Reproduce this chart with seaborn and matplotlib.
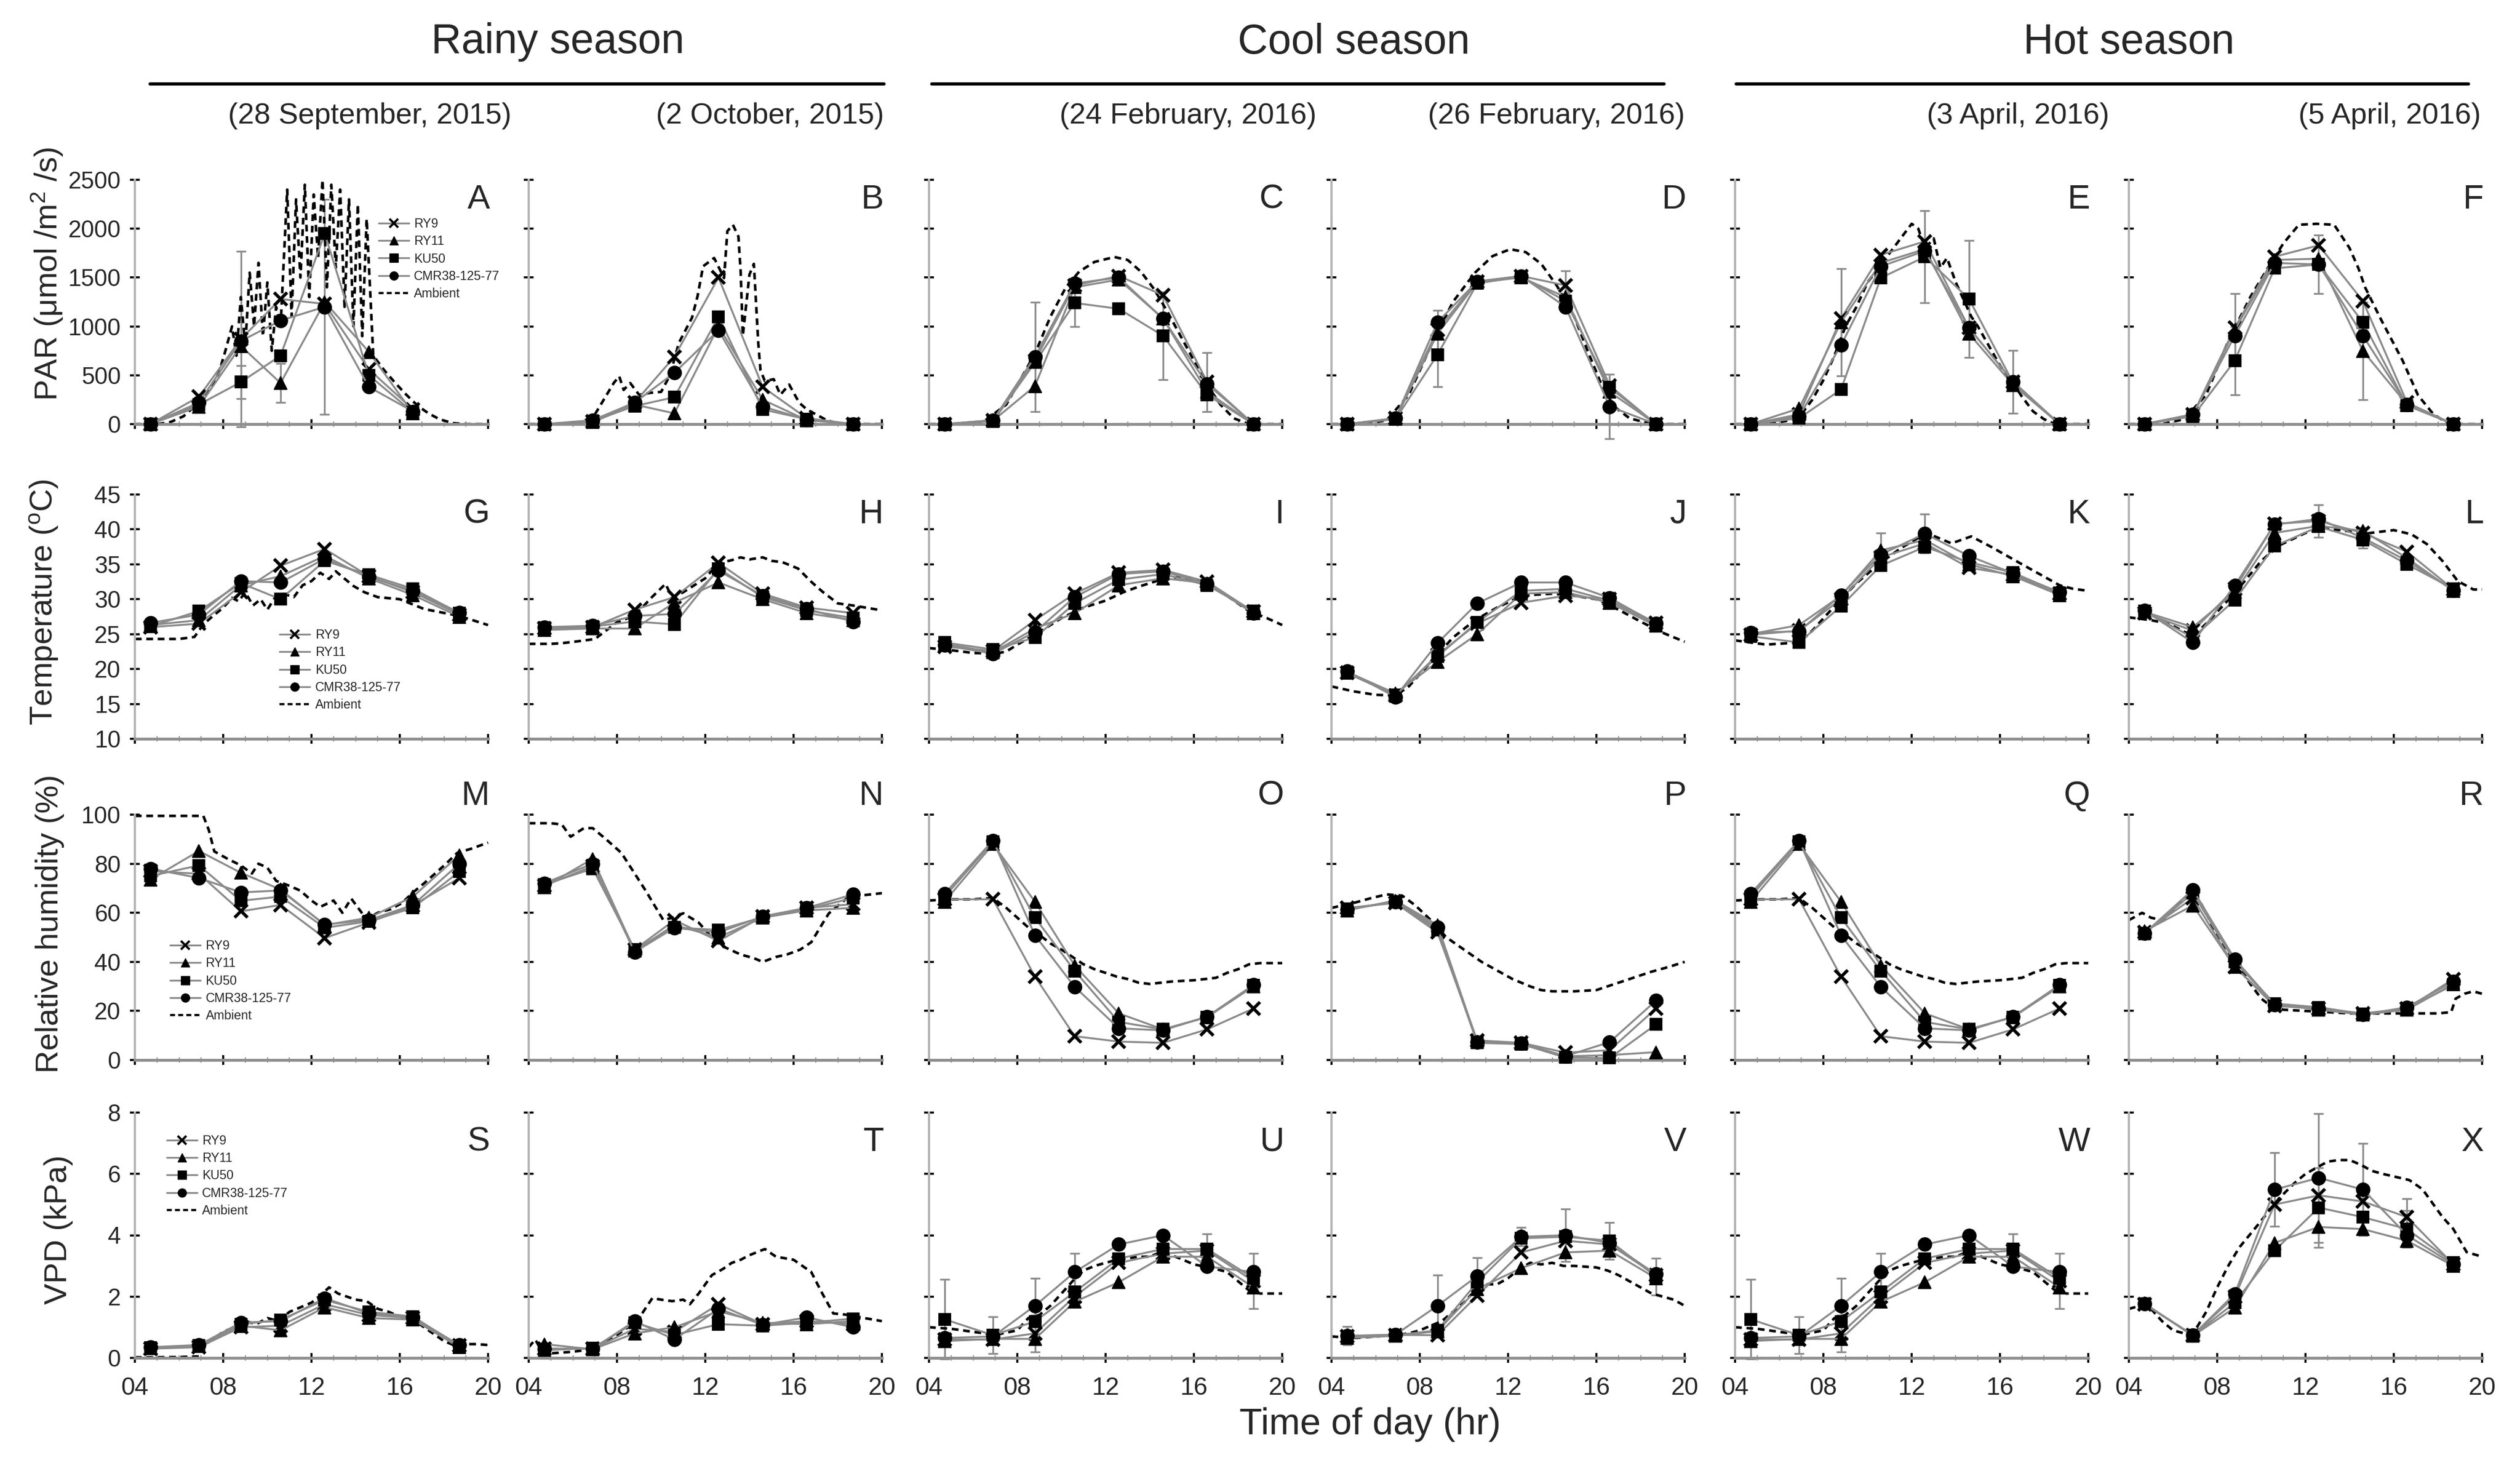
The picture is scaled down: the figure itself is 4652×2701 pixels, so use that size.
import matplotlib
matplotlib.use("Agg")
import matplotlib.pyplot as plt
from matplotlib.lines import Line2D
import seaborn as sns

# ---------------- data ----------------
hours = [4.7, 6.9, 8.8, 10.6, 12.6, 14.6, 16.6, 18.7]
genotypes = ["RY9", "RY11", "KU50", "CMR38-125-77"]

season_titles = ["Rainy season", "Cool season", "Hot season"]
dates = ["(28 September, 2015)", "(2 October, 2015)", "(24 February, 2016)",
         "(26 February, 2016)", "(3 April, 2016)", "(5 April, 2016)"]
row_labels = [r"PAR ($\mathrm{\mu}$mol /m$^{2}$ /s)", r"Temperature ($^{\mathrm{o}}$C)",
              "Relative humidity (%)", "VPD (kPa)"]
row_ylims = [(0, 2500), (10, 45), (0, 100), (0, 8)]
row_yticks = [[0, 500, 1000, 1500, 2000, 2500], [10, 15, 20, 25, 30, 35, 40, 45],
              [0, 20, 40, 60, 80, 100], [0, 2, 4, 6, 8]]
x_ticks = [4, 8, 12, 16, 20]
x_ticklabels = ["04", "08", "12", "16", "20"]
letters = list("ABCDEFGHIJKLMNOPQRSTUVWX")

# ---- PAR ----
A_RY9 = [0, 280, 870, 1280, 1230, 560, 150]
A_RY11 = [0, 180, 800, 420, 1250, 740, 110]
A_KU50 = [0, 200, 430, 700, 1950, 500, 120]
A_CMR = [0, 220, 850, 1060, 1200, 380, 130]
A_amb_t = [4.0, 5.0, 5.6, 6.2, 6.8, 7.3, 7.8, 8.1, 8.4, 8.6, 8.8, 9.0, 9.2, 9.4, 9.6, 9.8, 10.0,
           10.2, 10.4, 10.6, 10.9, 11.1, 11.3, 11.5, 11.7, 11.9, 12.1, 12.3, 12.5, 12.7, 12.9,
           13.1, 13.3, 13.5, 13.7, 13.9, 14.1, 14.3, 14.5, 14.8, 15.3, 15.8, 16.3, 16.8, 17.3,
           17.8, 18.4, 19.0, 20.0]
A_amb = [0, 0, 20, 80, 200, 330, 520, 750, 1000, 700, 1300, 800, 1550, 1000, 1650, 900, 1450,
         750, 1200, 1000, 2400, 1100, 2300, 1500, 2450, 1300, 2350, 1700, 2500, 1400, 2450,
         1600, 2400, 1200, 2300, 1000, 2250, 900, 2100, 700, 550, 420, 300, 190, 110,
         50, 10, 0, 0]
A_err = {0: [0, 0, 900, 0, 0, 0, 0], 1: [0, 0, 0, 200, 0, 0, 0],
         2: [0, 0, 170, 0, 0, 0, 0], 3: [0, 0, 0, 0, 1100, 0, 0]}

B_RY9 = [0, 30, 220, 690, 1500, 380, 60, 0]
B_RY11 = [0, 20, 200, 110, 1000, 250, 40, 0]
B_KU50 = [0, 30, 185, 275, 1100, 150, 50, 0]
B_CMR = [0, 40, 220, 525, 960, 180, 45, 0]
B_amb_t = [4.0, 5.0, 6.0, 6.5, 7.0, 7.4, 7.85, 8.1, 8.3, 8.6, 9.0, 9.5, 10.0, 10.4, 10.8, 11.4,
           11.65, 11.9, 12.4, 12.85, 13.0, 13.25, 13.5, 13.6, 13.7, 14.0, 14.2, 14.4, 14.5,
           14.7, 15.1, 15.4, 15.8, 16.25, 16.6, 17.5, 18.1, 20.0]
B_amb = [0, 0, 0, 30, 100, 250, 420, 490, 350, 420, 300, 320, 330, 500, 830, 1090, 1310, 1615,
         1700, 1495, 1975, 2040, 1920, 1570, 905, 1530, 1640, 830, 550, 440, 460, 300, 405,
         220, 150, 40, 0, 0]
B_err = {}

C_RY9 = [0, 40, 650, 1420, 1515, 1320, 430, 0]
C_RY11 = [0, 35, 390, 1400, 1480, 1080, 330, 0]
C_KU50 = [0, 30, 630, 1240, 1180, 905, 300, 0]
C_CMR = [0, 40, 690, 1440, 1500, 1080, 410, 0]
C_amb_t = [4.0, 5.5, 6.5, 7.5, 8.0, 8.8, 9.5, 10.2, 10.8, 11.5, 12.4, 13.0, 13.6, 14.2, 14.8,
           15.4, 16.0, 16.6, 17.2, 17.8, 18.5, 20.0]
C_amb = [0, 0, 30, 200, 400, 720, 1100, 1400, 1560, 1660, 1710, 1680, 1560, 1380, 1150, 900,
         650, 400, 200, 60, 0, 0]
C_err = {0: [0, 0, 0, 0, 0, 0, 300, 0], 2: [0, 0, 0, 240, 0, 450, 0, 0],
         3: [0, 0, 560, 0, 0, 0, 0, 0]}

D_RY9 = [0, 60, 965, 1460, 1515, 1420, 395, 0]
D_RY11 = [0, 55, 925, 1450, 1500, 1300, 330, 0]
D_KU50 = [0, 50, 710, 1440, 1510, 1260, 375, 0]
D_CMR = [0, 60, 1043, 1460, 1515, 1200, 180, 0]
D_amb_t = [4.0, 5.5, 6.5, 7.5, 8.5, 9.5, 10.5, 11.3, 12.1, 12.8, 13.5, 14.2, 15.0, 15.6, 16.2,
           16.8, 17.5, 18.5, 20.0]
D_amb = [0, 0, 40, 300, 800, 1250, 1550, 1720, 1790, 1760, 1640, 1420, 1100, 750, 420, 180,
         60, 0, 0]
D_err = {0: [0, 0, 200, 0, 0, 150, 0, 0], 2: [0, 0, 330, 0, 0, 0, 0, 0],
         3: [0, 0, 0, 0, 0, 0, 330, 0]}

E_RY9 = [0, 100, 1080, 1732, 1870, 984, 433, 0]
E_RY11 = [0, 160, 1043, 1650, 1791, 925, 400, 0]
E_KU50 = [0, 60, 354, 1496, 1712, 1280, 420, 0]
E_CMR = [0, 80, 807, 1614, 1772, 984, 433, 0]
E_amb_t = [4.0, 5.5, 6.5, 7.0, 7.5, 8.0, 8.5, 9.0, 9.5, 10.0, 10.5, 11.0, 11.5, 12.0, 12.3,
           12.6, 13.0, 13.3, 13.6, 14.0, 14.3, 14.7, 15.0, 15.5, 16.0, 16.5, 17.0, 17.5, 18.0,
           18.5, 20.0]
E_amb = [0, 0, 40, 100, 250, 450, 700, 1000, 1200, 1450, 1600, 1750, 1900, 2050, 2000, 1800,
         1900, 1600, 1700, 1450, 1300, 1100, 1000, 800, 600, 450, 280, 130, 50, 0, 0]
E_err = {1: [0, 0, 550, 0, 0, 0, 0, 0], 2: [0, 0, 0, 0, 470, 600, 0, 0],
         3: [0, 0, 0, 0, 0, 0, 320, 0]}

F_RY9 = [0, 100, 985, 1713, 1830, 1260, 220, 0]
F_RY11 = [0, 90, 965, 1680, 1693, 750, 200, 0]
F_KU50 = [0, 80, 650, 1594, 1634, 1043, 190, 0]
F_CMR = [0, 100, 905, 1650, 1634, 905, 200, 0]
F_amb_t = [4.0, 5.5, 6.5, 7.5, 8.5, 9.5, 10.3, 11.0, 11.7, 12.5, 13.3, 14.0, 14.4, 14.7, 15.4,
           16.4, 17.1, 17.8, 18.5, 20.0]
F_amb = [0, 0, 50, 300, 850, 1300, 1600, 1850, 2040, 2050, 2040, 1800, 1594, 1400, 1080, 650,
         295, 100, 0, 0]
F_err = {0: [0, 0, 350, 0, 0, 0, 0, 0], 1: [0, 0, 0, 0, 0, 500, 0, 0],
         2: [0, 0, 350, 0, 300, 0, 0, 0]}

# ---- Temperature ----
G_RY9 = [26.0, 26.5, 31.0, 34.8, 37.2, 33.3, 31.0, 27.8]
G_RY11 = [26.3, 27.0, 32.0, 33.3, 36.2, 33.0, 30.6, 27.5]
G_KU50 = [26.1, 28.3, 32.3, 30.0, 35.5, 33.5, 31.5, 28.0]
G_CMR = [26.6, 27.8, 32.6, 32.4, 35.8, 33.2, 31.2, 28.1]
G_amb_t = [4.0, 5.0, 6.0, 6.7, 7.1, 7.5, 8.0, 8.4, 8.7, 9.0, 9.35, 9.7, 10.0, 10.4, 10.7, 11.2,
           11.6, 12.0, 12.4, 12.8, 13.1, 13.4, 13.9, 14.4, 15.0, 16.0, 17.1, 18.7, 20.0]
G_amb = [24.3, 24.3, 24.3, 24.6, 26.4, 27.5, 28.8, 30.2, 29.7, 31.0, 29.1, 30.0, 28.5, 30.5,
         30.8, 30.3, 32.0, 32.6, 33.8, 32.9, 34.0, 33.2, 31.9, 31.0, 30.3, 30.0, 28.6, 27.6, 26.3]
G_err = {}

H_RY9 = [25.8, 26.0, 28.5, 30.3, 35.2, 30.8, 28.8, 28.0]
H_RY11 = [25.6, 25.8, 25.8, 29.5, 32.4, 30.0, 28.0, 27.0]
H_KU50 = [25.9, 26.1, 26.8, 26.4, 34.4, 30.3, 28.4, 27.3]
H_CMR = [26.0, 26.2, 27.6, 27.9, 34.1, 30.5, 28.6, 26.8]
H_amb_t = [4.0, 5.0, 5.5, 6.3, 7.0, 7.5, 8.0, 8.75, 9.2, 9.55, 10.2, 10.5, 11.0, 11.5, 12.0,
           12.4, 12.8, 13.2, 13.6, 14.0, 14.6, 15.0, 15.5, 16.2, 16.8, 17.3, 18.0, 18.7, 20.0]
H_amb = [23.6, 23.6, 23.7, 24.0, 24.3, 25.5, 26.7, 27.6, 29.0, 30.2, 32.2, 30.2, 31.0, 32.0,
         33.0, 34.5, 35.3, 35.6, 36.0, 35.7, 36.0, 35.5, 35.3, 34.4, 32.5, 31.1, 29.4, 29.1, 28.4]
H_err = {}

I_RY9 = [23.2, 22.6, 27.0, 30.8, 33.8, 34.2, 32.5, 28.2]
I_RY11 = [23.6, 22.4, 25.8, 28.0, 32.0, 33.0, 32.3, 28.0]
I_KU50 = [23.8, 22.8, 24.5, 29.4, 32.8, 33.6, 32.0, 28.3]
I_CMR = [23.4, 22.2, 25.3, 30.3, 33.6, 34.0, 32.2, 28.0]
I_amb_t = [4.0, 5.0, 6.0, 7.0, 7.5, 8.0, 9.0, 10.0, 11.0, 12.0, 12.8, 13.5, 14.2, 14.7, 15.5,
           16.5, 17.5, 18.5, 19.3, 20.0]
I_amb = [23.0, 22.7, 22.3, 22.2, 22.5, 23.5, 25.3, 27.3, 28.8, 29.8, 31.0, 31.8, 32.5, 33.0,
         33.2, 32.3, 30.5, 28.3, 27.3, 26.3]
I_err = {}

J_RY9 = [19.5, 16.2, 22.0, 26.5, 29.5, 30.5, 30.0, 26.6]
J_RY11 = [19.6, 16.5, 21.0, 25.0, 30.8, 31.0, 29.5, 26.2]
J_KU50 = [19.4, 16.3, 21.8, 26.7, 31.2, 31.5, 29.8, 26.4]
J_CMR = [19.7, 16.0, 23.7, 29.4, 32.4, 32.4, 30.2, 26.5]
J_amb_t = [4.0, 5.0, 6.0, 6.9, 7.5, 8.5, 9.5, 10.5, 11.5, 12.3, 13.0, 14.0, 15.0, 16.0, 17.0,
           18.0, 19.0, 20.0]
J_amb = [17.5, 16.8, 16.3, 16.2, 17.5, 21.0, 24.5, 27.0, 28.8, 30.0, 30.6, 30.8, 30.5, 30.0,
         28.5, 26.8, 25.2, 23.9]
J_err = {}

K_RY9 = [24.9, 25.5, 30.0, 36.0, 38.0, 34.5, 33.5, 30.8]
K_RY11 = [25.0, 26.3, 30.5, 37.0, 38.5, 35.0, 33.3, 30.6]
K_KU50 = [24.7, 23.8, 29.0, 34.8, 37.5, 35.3, 33.8, 30.9]
K_CMR = [25.2, 25.4, 30.6, 36.4, 39.4, 36.2, 33.7, 31.0]
K_amb_t = [4.0, 5.4, 6.9, 7.5, 8.5, 9.5, 10.5, 11.5, 12.3, 12.9, 13.8, 14.7, 15.6, 17.0, 18.7,
           19.3, 20.0]
K_amb = [24.1, 23.5, 23.8, 25.5, 29.0, 32.3, 35.0, 37.3, 38.8, 39.2, 38.0, 39.0, 37.5, 35.0,
         32.0, 31.5, 31.2]
K_err = {1: [0, 0, 0, 2.5, 0, 0, 0, 0], 3: [0, 0, 0, 0, 2.8, 0, 0, 0]}

L_RY9 = [28.0, 25.5, 31.5, 40.8, 41.2, 39.5, 36.8, 31.4]
L_RY11 = [28.2, 26.0, 31.0, 39.5, 40.5, 39.8, 35.9, 31.2]
L_KU50 = [28.3, 24.5, 29.9, 37.6, 40.4, 38.5, 35.0, 31.5]
L_CMR = [28.4, 23.8, 32.0, 40.7, 41.5, 38.8, 35.5, 31.3]
L_amb_t = [4.0, 5.0, 5.8, 6.9, 7.5, 8.8, 10.0, 10.8, 12.0, 12.8, 13.8, 14.7, 16.0, 16.8, 17.5,
           18.2, 18.9, 19.6, 20.0]
L_amb = [27.4, 27.0, 26.5, 24.7, 26.5, 30.9, 35.5, 37.7, 39.5, 40.2, 39.8, 39.4, 39.9, 39.3,
         37.9, 35.5, 32.6, 31.4, 31.4]
L_err = {0: [0, 0, 0, 0, 2.3, 0, 0, 0], 3: [0, 0, 0, 0, 0, 1.5, 0, 0]}

# ---- Relative humidity ----
M_RY9 = [77.0, 75.9, 60.6, 63.2, 49.7, 56.0, 63.0, 74.2]
M_RY11 = [73.5, 85.2, 76.3, 69.5, 55.0, 58.0, 66.6, 83.5]
M_KU50 = [75.0, 79.3, 64.9, 66.6, 53.9, 56.5, 62.0, 76.8]
M_CMR = [78.0, 74.2, 68.3, 69.1, 55.2, 57.0, 63.2, 80.0]
M_amb_t = [4.0, 5.0, 6.0, 7.1, 7.35, 7.6, 8.2, 8.8, 9.3, 9.6, 10.0, 10.4, 11.0, 11.5, 12.0,
           12.4, 13.0, 13.4, 13.8, 14.5, 15.0, 15.6, 16.1, 16.6, 17.1, 17.6, 18.1, 18.6, 19.2, 20.0]
M_amb = [99.5, 99.5, 99.5, 99.5, 93.7, 85.0, 82.0, 79.3, 76.0, 80.0, 78.4, 73.0, 71.0, 69.0,
         65.0, 62.4, 65.0, 60.0, 65.8, 57.3, 60.0, 61.5, 64.0, 68.3, 72.0, 76.0, 80.0, 84.4,
         86.0, 88.6]
M_err = {}

N_RY9 = [71.0, 79.0, 45.0, 57.0, 48.5, 58.5, 62.0, 63.5]
N_RY11 = [70.5, 82.0, 44.5, 55.0, 50.0, 58.0, 61.0, 62.0]
N_KU50 = [71.5, 78.0, 45.0, 54.0, 53.0, 58.2, 61.5, 66.0]
N_CMR = [72.0, 80.0, 44.0, 53.9, 52.0, 58.5, 62.0, 67.5]
N_amb_t = [4.0, 5.0, 5.5, 5.9, 6.5, 6.9, 7.5, 8.2, 8.8, 9.3, 10.1, 10.5, 11.0, 11.7, 12.3, 12.8,
           13.6, 14.2, 14.6, 15.2, 15.7, 16.3, 16.8, 17.2, 17.6, 18.4, 19.0, 20.0]
N_amb = [96.5, 96.5, 96.0, 91.0, 94.5, 94.5, 90.0, 84.4, 76.0, 69.0, 57.0, 58.0, 59.8, 56.0,
         50.0, 46.3, 43.0, 41.5, 40.0, 42.0, 43.0, 45.0, 48.0, 54.0, 59.8, 65.8, 67.0, 68.0]
N_err = {}

O_RY9 = [65.5, 65.5, 34.0, 9.7, 7.5, 7.0, 12.5, 21.0]
O_RY11 = [64.5, 88.0, 64.5, 38.5, 19.0, 12.5, 17.5, 30.0]
O_KU50 = [66.5, 89.0, 58.0, 36.3, 15.5, 12.5, 17.5, 30.5]
O_CMR = [67.7, 89.5, 50.8, 29.8, 12.9, 12.1, 17.7, 30.6]
O_amb_t = [4.0, 5.0, 6.0, 6.9, 7.5, 8.0, 8.5, 9.0, 9.5, 10.0, 10.5, 11.0, 11.5, 12.0, 12.5,
           13.0, 13.5, 14.0, 14.5, 15.0, 16.0, 17.0, 17.5, 18.0, 18.5, 19.0, 20.0]
O_amb = [65.0, 65.5, 65.5, 66.0, 62.0, 58.0, 54.0, 51.0, 47.5, 45.0, 42.0, 39.0, 37.0, 35.5,
         34.0, 33.0, 31.5, 31.0, 31.5, 32.0, 32.5, 33.5, 35.5, 37.0, 39.0, 39.5, 39.5]
O_err = {}

P_RY9 = [62.0, 64.0, 52.0, 8.0, 7.0, 3.0, 4.0, 21.0]
P_RY11 = [61.0, 65.0, 55.0, 7.5, 6.8, 1.5, 2.0, 3.2]
P_KU50 = [61.5, 64.5, 53.0, 7.0, 6.5, 1.0, 0.8, 14.5]
P_CMR = [61.3, 64.5, 54.0, 7.3, 6.8, 1.6, 7.3, 24.2]
P_amb_t = [4.0, 5.0, 5.8, 6.5, 7.2, 7.8, 8.5, 9.2, 10.0, 10.8, 11.5, 12.2, 13.0, 13.5, 14.0,
           15.0, 16.0, 16.5, 17.5, 18.5, 19.3, 20.0]
P_amb = [62.0, 64.0, 66.0, 67.5, 67.0, 63.0, 57.0, 50.0, 45.0, 40.0, 36.5, 33.0, 30.0, 28.5,
         28.0, 28.0, 28.5, 30.0, 33.0, 36.0, 38.0, 40.0]
P_err = {}

Q_RY9 = [65.5, 65.5, 34.0, 9.7, 7.5, 7.0, 12.5, 21.0]
Q_RY11 = [64.5, 88.0, 64.5, 38.5, 19.0, 12.5, 17.5, 30.0]
Q_KU50 = [66.5, 89.0, 58.0, 36.3, 15.5, 12.5, 17.5, 30.5]
Q_CMR = [67.7, 89.5, 50.8, 29.8, 12.9, 12.1, 17.7, 30.6]
Q_amb_t = [4.0, 5.0, 6.0, 6.9, 7.5, 8.0, 8.5, 9.0, 9.5, 10.0, 10.5, 11.0, 11.5, 12.0, 12.5,
           13.0, 13.5, 14.0, 14.5, 15.0, 16.0, 17.0, 17.5, 18.0, 18.5, 19.0, 20.0]
Q_amb = [65.0, 65.5, 65.5, 66.0, 62.0, 58.0, 54.0, 51.0, 47.5, 45.0, 42.0, 39.0, 37.0, 35.5,
         34.0, 33.0, 31.5, 31.0, 31.5, 32.0, 32.5, 33.5, 35.5, 37.0, 39.0, 39.5, 39.5]
Q_err = {}

R_RY9 = [52.0, 66.0, 38.0, 22.0, 21.0, 19.0, 21.0, 33.0]
R_RY11 = [52.5, 63.0, 37.9, 22.6, 20.5, 18.5, 20.5, 31.0]
R_KU50 = [51.5, 68.0, 40.0, 23.0, 21.5, 18.8, 21.0, 30.6]
R_CMR = [51.6, 69.4, 41.1, 22.6, 21.0, 18.5, 21.5, 32.0]
R_amb_t = [4.0, 4.6, 5.0, 5.5, 6.0, 6.5, 7.0, 7.5, 8.0, 8.5, 9.0, 9.5, 10.0, 10.5, 11.0, 12.0,
           13.0, 14.0, 15.0, 16.0, 17.0, 18.0, 18.6, 18.8, 19.2, 19.6, 20.0]
R_amb = [57.0, 60.0, 58.0, 57.0, 61.0, 66.0, 68.0, 60.0, 50.0, 43.0, 38.0, 31.0, 25.0, 21.5,
         20.5, 20.0, 19.5, 19.0, 19.0, 19.0, 19.0, 19.0, 19.5, 25.0, 27.0, 28.0, 27.0]
R_err = {}

# ---- VPD ----
S_RY9 = [0.30, 0.35, 1.00, 1.05, 1.75, 1.40, 1.30, 0.40]
S_RY11 = [0.32, 0.38, 1.05, 0.90, 1.65, 1.30, 1.25, 0.35]
S_KU50 = [0.34, 0.40, 1.10, 1.24, 1.89, 1.50, 1.35, 0.38]
S_CMR = [0.35, 0.42, 1.15, 1.20, 1.95, 1.45, 1.32, 0.42]
S_amb_t = [4.0, 5.0, 6.0, 6.9, 7.1, 7.5, 8.0, 8.5, 9.0, 9.5, 10.0, 10.5, 11.0, 11.5, 12.0, 12.5,
           12.8, 13.2, 13.6, 14.0, 14.5, 15.0, 15.5, 16.0, 16.5, 17.0, 17.5, 18.0, 18.5, 19.0,
           19.5, 20.0]
S_amb = [0.02, 0.02, 0.03, 0.05, 0.4, 0.6, 0.85, 1.0, 1.2, 1.1, 1.3, 1.2, 1.5, 1.65, 1.8, 2.1,
         2.3, 2.1, 2.0, 1.9, 1.85, 1.6, 1.5, 1.35, 1.3, 1.05, 0.8, 0.55, 0.4, 0.45, 0.45, 0.42]
S_err = {}

T_RY9 = [0.30, 0.30, 0.95, 0.85, 1.75, 1.10, 1.20, 1.10]
T_RY11 = [0.45, 0.28, 0.80, 1.00, 1.52, 1.15, 1.10, 1.20]
T_KU50 = [0.25, 0.32, 1.15, 0.75, 1.10, 1.05, 1.15, 1.28]
T_CMR = [0.30, 0.30, 1.20, 0.60, 1.60, 1.08, 1.32, 1.00]
T_amb_t = [4.0, 4.3, 4.6, 5.0, 6.0, 7.0, 7.5, 8.0, 8.5, 9.0, 9.6, 10.0, 10.5, 11.0, 11.3, 11.7,
           12.3, 12.8, 13.2, 13.6, 14.0, 14.7, 15.2, 15.6, 16.0, 16.4, 16.8, 17.3, 17.8, 18.5,
           19.2, 20.0]
T_amb = [0.35, 0.6, 0.2, 0.15, 0.2, 0.3, 0.55, 0.75, 1.0, 1.3, 1.95, 1.9, 1.85, 1.9, 1.75, 2.1,
         2.7, 2.9, 3.1, 3.2, 3.35, 3.55, 3.3, 3.25, 3.2, 3.0, 2.8, 2.1, 1.45, 1.4, 1.3, 1.2]
T_err = {}

U_RY9 = [0.60, 0.60, 0.80, 2.00, 3.10, 3.40, 3.50, 2.50]
U_RY11 = [0.55, 0.62, 0.62, 1.83, 2.47, 3.30, 3.30, 2.30]
U_KU50 = [1.26, 0.74, 1.19, 2.15, 3.24, 3.55, 3.55, 2.60]
U_CMR = [0.65, 0.70, 1.70, 2.80, 3.70, 4.00, 2.98, 2.80]
U_amb_t = [4.0, 5.0, 6.0, 7.0, 8.0, 8.5, 9.0, 9.5, 10.0, 10.5, 11.0, 11.5, 12.0, 12.5, 13.0,
           13.5, 14.0, 14.5, 15.0, 15.5, 16.0, 17.0, 17.5, 18.0, 18.5, 19.0, 19.5, 20.0]
U_amb = [1.0, 0.95, 0.85, 0.75, 0.9, 1.3, 1.4, 1.7, 2.1, 2.5, 2.85, 3.0, 3.1, 3.2, 3.25, 3.3,
         3.3, 3.45, 3.35, 3.2, 3.05, 2.9, 2.8, 2.5, 2.2, 2.1, 2.1, 2.1]
U_err = {0: [0, 0, 0.6, 0, 0, 0, 0, 0.9], 2: [1.3, 0.6, 0, 0, 0, 0, 0.5, 0],
         3: [0, 0, 0.9, 0.6, 0, 0, 0, 0]}

V_RY9 = [0.70, 0.75, 0.74, 2.03, 3.44, 3.82, 3.70, 2.70]
V_RY11 = [0.65, 0.72, 0.87, 2.25, 2.93, 3.44, 3.50, 2.60]
V_KU50 = [0.68, 0.74, 0.90, 2.47, 3.90, 3.95, 3.82, 2.65]
V_CMR = [0.72, 0.76, 1.70, 2.67, 3.95, 4.00, 3.75, 2.73]
V_amb_t = [4.0, 5.0, 6.0, 7.0, 7.5, 8.0, 9.0, 9.5, 10.0, 10.5, 11.0, 11.5, 12.0, 12.5, 13.0,
           13.5, 14.0, 14.5, 15.0, 16.0, 16.5, 17.0, 17.5, 18.0, 18.5, 19.0, 19.5, 20.0]
V_amb = [0.7, 0.65, 0.7, 0.75, 0.8, 0.9, 1.2, 1.5, 1.8, 2.2, 2.4, 2.4, 2.6, 2.9, 3.1, 3.05, 3.1,
         3.0, 3.0, 2.95, 2.85, 2.7, 2.5, 2.3, 2.1, 2.0, 1.9, 1.7]
V_err = {2: [0, 0, 0, 0, 0, 0, 0.6, 0.6], 3: [0.3, 0, 1.0, 0.6, 0.3, 0.85, 0, 0]}

W_RY9 = [0.60, 0.60, 0.80, 2.00, 3.10, 3.40, 3.50, 2.50]
W_RY11 = [0.55, 0.62, 0.62, 1.83, 2.47, 3.30, 3.30, 2.30]
W_KU50 = [1.26, 0.74, 1.19, 2.15, 3.24, 3.55, 3.55, 2.60]
W_CMR = [0.65, 0.70, 1.70, 2.80, 3.70, 4.00, 2.98, 2.80]
W_amb_t = [4.0, 5.0, 6.0, 7.0, 8.0, 8.5, 9.0, 9.5, 10.0, 10.5, 11.0, 11.5, 12.0, 12.5, 13.0,
           13.5, 14.0, 14.5, 15.0, 15.5, 16.0, 17.0, 17.5, 18.0, 18.5, 19.0, 19.5, 20.0]
W_amb = [1.0, 0.95, 0.85, 0.75, 0.9, 1.3, 1.4, 1.7, 2.1, 2.5, 2.85, 3.0, 3.1, 3.2, 3.25, 3.3,
         3.3, 3.45, 3.35, 3.2, 3.05, 2.9, 2.8, 2.5, 2.2, 2.1, 2.1, 2.1]
W_err = {0: [0, 0, 0.6, 0, 0, 0, 0, 0.9], 2: [1.3, 0.6, 0, 0, 0, 0, 0.5, 0],
         3: [0, 0, 0.9, 0.6, 0, 0, 0, 0]}

X_RY9 = [1.75, 0.75, 2.00, 5.00, 5.30, 5.10, 4.59, 3.05]
X_RY11 = [1.78, 0.72, 1.64, 3.75, 4.27, 4.20, 3.82, 3.00]
X_KU50 = [1.76, 0.74, 1.80, 3.50, 4.90, 4.59, 4.20, 3.10]
X_CMR = [1.77, 0.74, 2.09, 5.49, 5.87, 5.49, 4.00, 3.05]
X_amb_t = [4.0, 4.5, 5.0, 5.5, 6.0, 6.5, 7.0, 7.5, 8.0, 8.5, 9.0, 9.8, 10.8, 11.5, 12.0, 12.5,
           13.0, 13.5, 14.0, 14.5, 15.0, 15.5, 16.1, 16.7, 17.3, 17.8, 18.2, 18.7, 19.3, 20.0]
X_amb = [1.6, 1.7, 1.6, 1.2, 0.9, 0.8, 0.9, 1.5, 2.3, 3.0, 3.6, 4.3, 5.2, 5.7, 6.0, 6.2, 6.4,
         6.45, 6.45, 6.3, 6.1, 6.0, 5.9, 5.8, 5.5, 5.0, 4.6, 4.2, 3.45, 3.3]
X_err = {0: [0, 0, 0, 0, 0, 0, 0.6, 0], 2: [0, 0, 0, 0, 1.3, 0, 0.6, 0],
         3: [0, 0, 0, 1.2, 2.1, 1.5, 0, 0]}

# table built from the named lists above
G_ = globals()
panels = {}
for L in letters:
    panels[L] = dict(series=[G_[L + "_RY9"], G_[L + "_RY11"], G_[L + "_KU50"], G_[L + "_CMR"]],
                     amb_t=G_[L + "_amb_t"], amb=G_[L + "_amb"], err=G_[L + "_err"])

# ---------------- style ----------------
sns.set_style("ticks")
plt.rcParams["font.family"] = ["Liberation Sans", "DejaVu Sans"]
plt.rcParams["mathtext.fontset"] = "custom"
plt.rcParams["mathtext.rm"] = "Liberation Sans"
plt.rcParams["mathtext.it"] = "Liberation Sans:italic"

W, H = 4652, 2701
fig = plt.figure(figsize=(W / 300, H / 300), dpi=300)

col_left = [249, 976, 1715, 2458, 3203, 3930]
col_w = 652
row_top = [332, 913, 1504, 2054]
row_h = [451, 451, 453, 453]

line_col = "#8a8a8a"
markers = ["x", "^", "s", "o"]
msizes = [5.6, 5.6, 5.2, 6.0]
legend_pos = {"A": (0.69, 0.845), "G": (0.41, 0.45), "M": (0.10, 0.49), "S": (0.09, 0.91)}
letter_y = [(0.985, "top"), (0.985, "top"), (1.012, "bottom"), (0.945, "top")]

for r in range(4):
    for c in range(6):
        L = letters[r * 6 + c]
        d = panels[L]
        rect = [col_left[c] / W, 1 - (row_top[r] + row_h[r]) / H, col_w / W, row_h[r] / H]
        ax = fig.add_axes(rect)
        # ambient
        n_a = min(len(d["amb_t"]), len(d["amb"]))
        sns.lineplot(x=d["amb_t"][:n_a], y=d["amb"][:n_a], ax=ax, color="black",
                     linestyle=(0, (2.6, 1.8)), linewidth=1.15, errorbar=None,
                     legend=False, zorder=2.5, clip_on=False, sort=False)
        # genotypes
        for gi, vals in enumerate(d["series"]):
            xs = hours[:len(vals)]
            if gi in d["err"]:
                e = d["err"][gi][:len(vals)]
                ex = [x for x, ee in zip(xs, e) if ee > 0]
                ey = [v for v, ee in zip(vals, e) if ee > 0]
                ee_ = [ee for ee in e if ee > 0]
                if ex:
                    ax.errorbar(ex, ey, yerr=ee_, fmt="none", ecolor="#8c8c8c",
                                elinewidth=0.8, capsize=2.2, capthick=0.8, zorder=1.5,
                                clip_on=False)
            sns.lineplot(x=xs, y=vals, ax=ax, color=line_col, linewidth=0.85,
                         marker=markers[gi], markersize=msizes[gi],
                         markerfacecolor="black", markeredgecolor="black",
                         markeredgewidth=1.4 if markers[gi] == "x" else 0.4,
                         errorbar=None, legend=False, zorder=3, clip_on=False, sort=False)
        ax.set_xlim(4, 20)
        ax.set_ylim(*row_ylims[r])
        ax.set_xticks(x_ticks)
        ax.set_xticks(range(4, 21), minor=True)
        ax.set_yticks(row_yticks[r])
        ax.set_xlabel("")
        ax.set_ylabel("")
        if r == 3:
            ax.set_xticklabels(x_ticklabels)
        else:
            ax.set_xticklabels([])
        if c != 0:
            ax.set_yticklabels([])
        for s in ["top", "right"]:
            ax.spines[s].set_visible(False)
        ax.spines["left"].set_color("#b4b4b4")
        ax.spines["left"].set_linewidth(1.0)
        ax.spines["bottom"].set_color("#8f8f8f")
        ax.spines["bottom"].set_linewidth(1.3)
        ax.tick_params(axis="both", which="major", direction="inout", length=4.5,
                       width=0.9, color="black", labelsize=10.5, pad=4)
        ax.tick_params(axis="x", which="major", pad=6, labelsize=11)
        ax.tick_params(axis="x", which="minor", direction="inout", length=2.2,
                       width=0.5, color="#9a9a9a")
        ax.tick_params(axis="y", which="minor", left=False)
        ly, lva = letter_y[r]
        ax.text(1.005, ly, L, transform=ax.transAxes, ha="right", va=lva, fontsize=15)
        if L in legend_pos:
            handles = [Line2D([0], [0], color=line_col, lw=0.8, marker=m, ms=3.8,
                              mfc="black", mec="black", mew=1.0 if m == "x" else 0.3)
                       for m in markers]
            handles.append(Line2D([0], [0], color="black", lw=1.0, linestyle=(0, (2.2, 1.4))))
            ax.legend(handles, genotypes + ["Ambient"], loc="upper left",
                      bbox_to_anchor=legend_pos[L], frameon=False, fontsize=5.6,
                      handlelength=2.4, handletextpad=0.4, labelspacing=0.4,
                      borderaxespad=0.0, borderpad=0.0)

# y labels
ylab_pos = [(87, 506), (81, 1112), (92, 1705), (108, 2270)]
for r in range(4):
    x, y = ylab_pos[r]
    fig.text(x / W, 1 - y / H, row_labels[r], rotation=90, ha="center", va="center",
             fontsize=14)

# season titles and lines
title_x = [1030, 2499, 3930]
line_x = [(277, 1632), (1720, 3072), (3205, 4557)]
for i in range(3):
    fig.text(title_x[i] / W, 1 - 78 / H, season_titles[i], ha="center", va="center",
             fontsize=18.5)
    x0, x1 = line_x[i]
    fig.add_artist(Line2D([x0 / W, x1 / W], [1 - 155 / H, 1 - 155 / H], color="black",
                          lw=1.4, transform=fig.transFigure))

date_right = [944, 1632, 2430, 3110, 3894, 4580]
for i in range(6):
    fig.text(date_right[i] / W, 1 - 214 / H, dates[i], ha="right", va="center", fontsize=13)

fig.text(2529 / W, 1 - 2630 / H, "Time of day (hr)", ha="center", va="center", fontsize=16.5)

fig.savefig("out.png", dpi=300)
